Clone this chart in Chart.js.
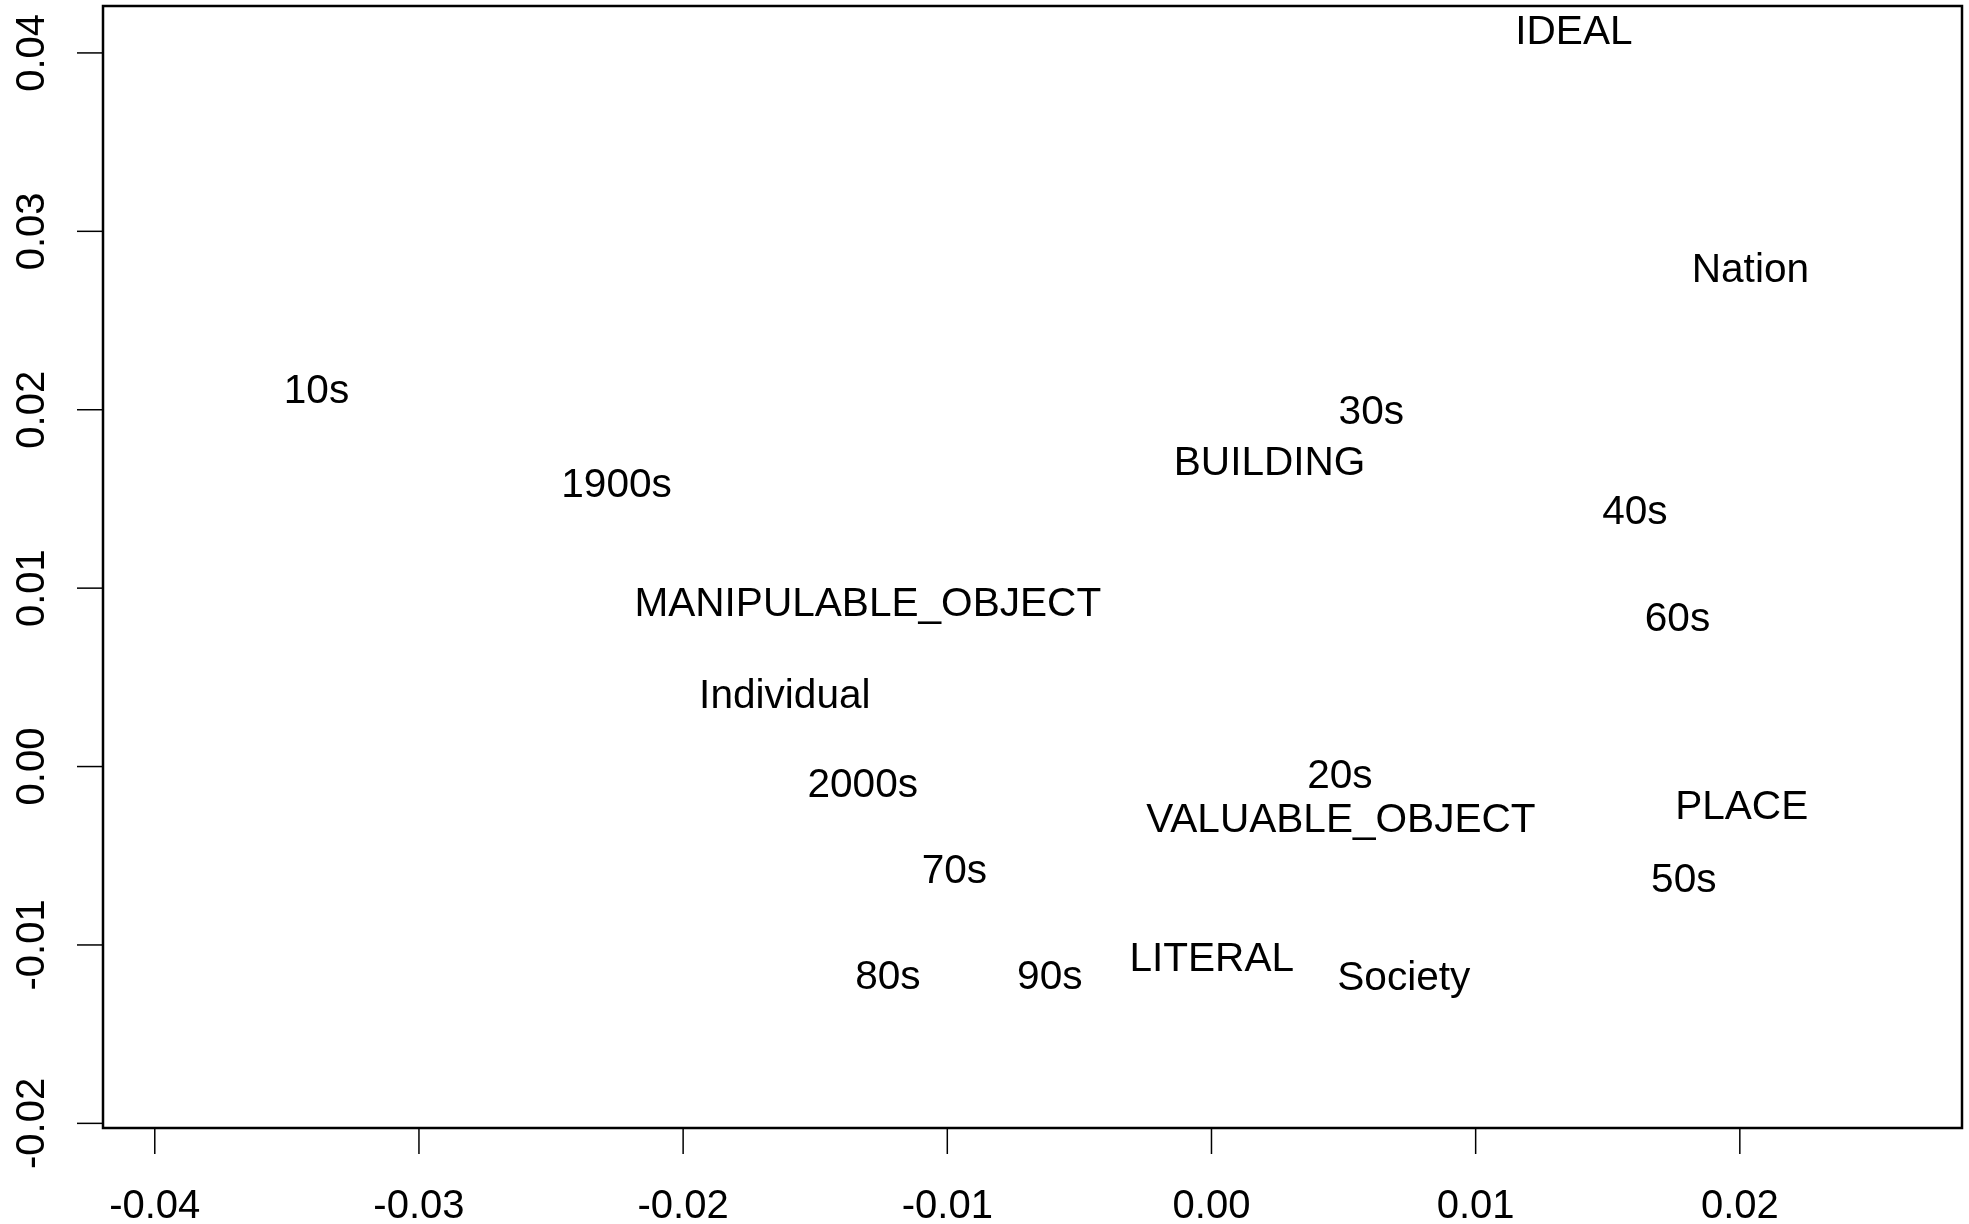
<!DOCTYPE html>
<html>
<head>
<meta charset="utf-8">
<title>Correspondence map</title>
<script src="https://cdn.jsdelivr.net/npm/chart.js@4.4.0/dist/chart.umd.min.js"></script>
<style>
    html, body { margin: 0; padding: 0; background: #fff; }
    #wrap { width: 1969px; height: 1224px; position: relative; }
</style>
</head>
<body>
<div id="wrap"><canvas id="mapChart"></canvas></div>
<script>
// ===== DADOS =====
const terms = ['IDEAL', 'Nation', '10s', '30s', 'BUILDING', '1900s', '40s', 'MANIPULABLE_OBJECT',
    '60s', 'Individual', '20s', '2000s', 'PLACE', 'VALUABLE_OBJECT', '70s', '50s',
    'LITERAL', '80s', '90s', 'Society'];
const dim1 = [0.01372, 0.02040, -0.03388, 0.00605, 0.00220, -0.02252, 0.01603, -0.01301,
    0.01764, -0.01615, 0.00486, -0.01320, 0.02007, 0.00490, -0.00973, 0.01788,
    0.00001, -0.01225, -0.00612, 0.00728];
const dim2 = [0.04134, 0.02797, 0.02122, 0.02002, 0.01714, 0.01594, 0.01439, 0.00925,
    0.00841, 0.00412, -0.00039, -0.00088, -0.00215, -0.00285, -0.00574, -0.00623,
    -0.01066, -0.01165, -0.01165, -0.01172];

const xTicks = [-0.04, -0.03, -0.02, -0.01, 0.00, 0.01, 0.02];
const yTicks = [-0.02, -0.01, 0.00, 0.01, 0.02, 0.03, 0.04];
const xTickLabels = ['-0.04', '-0.03', '-0.02', '-0.01', '0.00', '0.01', '0.02'];
const yTickLabels = ['-0.02', '-0.01', '0.00', '0.01', '0.02', '0.03', '0.04'];

// ===== ESTILO =====
const LABEL_FONT = '40.6px "Liberation Sans", Arial, sans-serif';
const AXIS_FONT = '40px "Liberation Sans", Arial, sans-serif';
const CAP = 40.6 * 0.716;
const TICK_LEN = 26;

// rótulos de texto no lugar de cada ponto (como text() no R)
const termLabels = {
    id: 'termLabels',
    afterDatasetsDraw(chart) {
        const ctx = chart.ctx;
        const meta = chart.getDatasetMeta(0);
        ctx.save();
        ctx.font = LABEL_FONT;
        ctx.fillStyle = '#000';
        ctx.textAlign = 'center';
        ctx.textBaseline = 'alphabetic';
        meta.data.forEach((pt, i) => {
            ctx.fillText(terms[i], pt.x, pt.y + CAP / 2);
        });
        ctx.restore();
    }
};

// moldura e eixos estilo R
const rAxes = {
    id: 'rAxes',
    afterDraw(chart) {
        const ctx = chart.ctx;
        const area = chart.chartArea;
        const sx = chart.scales.x;
        const sy = chart.scales.y;
        ctx.save();
        ctx.strokeStyle = '#000';
        ctx.fillStyle = '#000';
        ctx.lineWidth = 2.5;
        ctx.strokeRect(area.left, area.top, area.right - area.left, area.bottom - area.top);

        ctx.lineWidth = 1.5;
        ctx.font = AXIS_FONT;
        // eixo x
        ctx.textAlign = 'center';
        ctx.textBaseline = 'alphabetic';
        xTicks.forEach((v, i) => {
            const px = sx.getPixelForValue(v);
            ctx.beginPath();
            ctx.moveTo(px, area.bottom);
            ctx.lineTo(px, area.bottom + TICK_LEN);
            ctx.stroke();
            ctx.fillText(xTickLabels[i], px, 1218);
        });
        // eixo y (rótulos girados)
        yTicks.forEach((v, i) => {
            const py = sy.getPixelForValue(v);
            ctx.beginPath();
            ctx.moveTo(area.left, py);
            ctx.lineTo(area.left - TICK_LEN, py);
            ctx.stroke();
            ctx.save();
            ctx.translate(44, py);
            ctx.rotate(-Math.PI / 2);
            ctx.fillText(yTickLabels[i], 0, 0);
            ctx.restore();
        });
        ctx.restore();
    }
};

function initChart() {
    const canvas = document.getElementById('mapChart');
    if (!canvas || typeof Chart === 'undefined') return;

    new Chart(canvas, {
        type: 'scatter',
        data: {
            labels: terms,
            datasets: [{
                data: dim1.map((x, i) => ({ x: x, y: dim2[i] })),
                pointRadius: 0,
                pointHoverRadius: 0
            }]
        },
        options: {
            responsive: true,
            maintainAspectRatio: false,
            devicePixelRatio: 1,
            animation: false,
            events: [],
            layout: { padding: { left: 103, top: 6, right: 7, bottom: 96 } },
            plugins: {
                legend: { display: false },
                tooltip: { enabled: false }
            },
            scales: {
                x: { type: 'linear', min: -0.04196, max: 0.02841, display: false },
                y: { type: 'linear', min: -0.02026, max: 0.04263, display: false }
            }
        },
        plugins: [termLabels, rAxes]
    });
}

document.addEventListener('DOMContentLoaded', initChart);
</script>
</body>
</html>
